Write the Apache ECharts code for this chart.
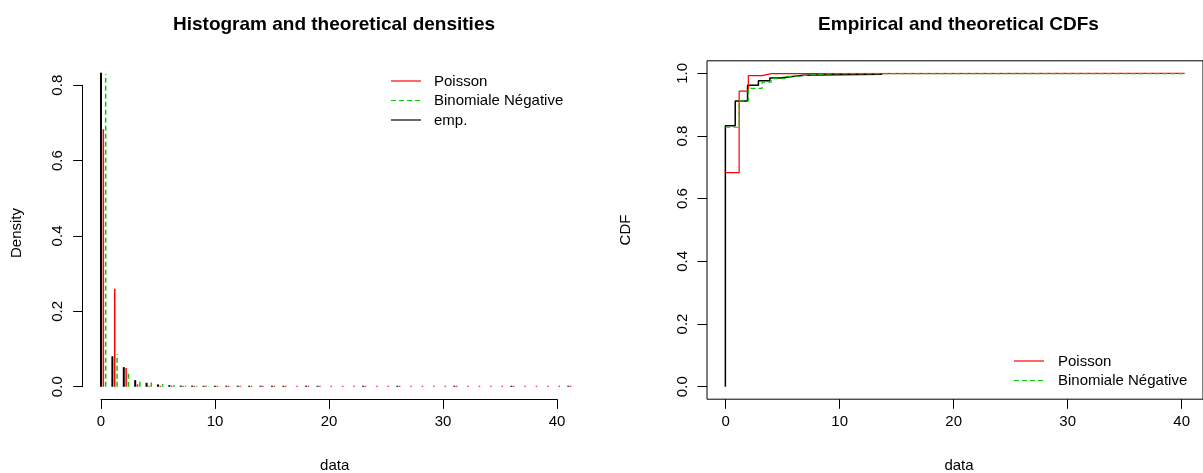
<!DOCTYPE html>
<html><head><meta charset="utf-8">
<script src="https://cdn.jsdelivr.net/npm/echarts@6/dist/echarts.min.js"></script>
<style>html,body{margin:0;padding:0;background:#fff}#c{width:1203px;height:473px}</style>
</head><body><div id="c"></div>
<script>
const FONT = "'Liberation Sans', Arial, sans-serif";

// ---------- data ----------
const seriesNames = ['Poisson', 'Binomiale Négative', 'emp.'];
const xTicks = [0, 10, 20, 30, 40];
const densTicks = [0, 0.2, 0.4, 0.6, 0.8];
const cdfTicks = [0, 0.2, 0.4, 0.6, 0.8, 1.0];

// empirical densities (observed counts)
const empX    = [0, 1, 2, 3, 4, 5, 6, 7, 8, 9, 10, 11, 12, 13, 14, 15, 16, 18, 19, 23, 26, 31, 36, 41];
const empDens = [0.833, 0.081, 0.052, 0.0175, 0.0105, 0.006, 0.0045, 0.003, 0.003, 0.002, 0.002, 0.001, 0.001,
                 0.001, 0.001, 0.001, 0.001, 0.001, 0.001, 0.001, 0.001, 0.001, 0.001, 0.001];
// Poisson densities
const poisX    = [0,1,2,3,4,5,6,7,8,9,10,11,12,13,14,15,16,17,18,19,20,21,22,23,24,25,26,27,28,29,30,31,32,33,34,35,36,37,38,39,40,41];
const poisDens = [0.683, 0.260, 0.050, 0.0063, 0.0006, 0,0,0,0,0,0,0,0,0,0,0,0,0,0,0,0,0,0,0,0,0,0,0,0,0,0,0,0,0,0,0,0,0,0,0,0,0];
// Negative binomial densities
const nbX    = [0, 1, 2, 3, 4, 5, 6, 7, 8, 9, 10, 11, 12];
const nbDens = [0.830, 0.087, 0.037, 0.018, 0.0115, 0.007, 0.0045, 0.003, 0.002, 0.0013, 0.0009, 0.0006, 0.0004];

// CDFs
const empCdfX = [0, 0, 0.88, 1.98, 2.95, 3.97, 4.9, 6.0, 7.0, 8.0, 14];
const empCdfY = [0, 0.833, 0.912, 0.962, 0.976, 0.985, 0.990, 0.994, 0.995, 0.997, 0.997];
const poisCdfX = [0, 1.23, 2.05, 3.28, 4.1, 41];
const poisCdfY = [0.683, 0.943, 0.9925, 0.9988, 0.9999, 1.0];
const nbCdfX = [0, 1.23, 2.05, 3.28, 4.1, 5.33, 6.15, 7.38, 8.2, 9.43, 10.25, 41];
const nbCdfY = [0.828, 0.912, 0.952, 0.972, 0.983, 0.990, 0.994, 0.9965, 0.998, 0.9988, 0.9993, 1.0];

// ---------- styles ----------
const RED = '#FF0000', GREEN = '#00CD00', BLACK = '#000000';
const DASH = [5, 3];
const zip = (a, b) => a.map((v, i) => [v, b[i]]);

function vbars(offset, color, width, dash, minPx) {
  return function (params, api) {
    const x = api.value(0) + offset, y = api.value(1);
    const p0 = api.coord([x, 0]);
    const p1 = api.coord([x, y]);
    let y2 = p1[1];
    if (p0[1] - y2 < minPx) y2 = p0[1] - minPx;
    return { type: 'line', shape: { x1: p0[0], y1: p0[1], x2: p0[0], y2: y2 },
             style: { stroke: color, lineWidth: width, lineDash: dash || null } };
  };
}

const txt = { color: '#000', fontFamily: FONT, fontSize: 15 };
const tickStyle = { show: true, length: 9.6, lineStyle: { color: '#000', width: 1 } };
const hidden = { show: false };

// density panel ranges (R: 4% extension)
const dXmin = -1.64, dXmax = 42.64, dYmin = -0.0333, dYmax = 0.8663;
const cYmin = -0.04, cYmax = 1.04;

const option = {
  animation: false,
  backgroundColor: '#fff',
  title: [
    { text: 'Histogram and theoretical densities', left: 329, top: 10, textAlign: 'center',
      textStyle: { fontFamily: FONT, fontSize: 19, fontWeight: 'bold', color: '#000' } },
    { text: 'Empirical and theoretical CDFs', left: 953.5, top: 10, textAlign: 'center',
      textStyle: { fontFamily: FONT, fontSize: 19, fontWeight: 'bold', color: '#000' } }
  ],
  grid: [
    { left: 82.3, top: 60.2, width: 504.7, height: 339.1 },            // 0 density data
    { left: 101, top: 60.2, width: 456, height: 339.1 },               // 1 density x axis
    { left: 82.7, top: 85.2, width: 504, height: 301.5 },              // 2 density y axis
    { left: 707, top: 60.8, width: 505, height: 338.4, show: true, borderColor: '#000', borderWidth: 1 }, // 3 cdf data
    { left: 725.7, top: 60.8, width: 456, height: 338.4 },             // 4 cdf x axis
    { left: 707, top: 73.3, width: 505, height: 313.4 }                // 5 cdf y axis
  ],
  xAxis: [
    { gridIndex: 0, type: 'value', min: dXmin, max: dXmax, show: false },
    { gridIndex: 1, type: 'value', min: xTicks[0], max: xTicks[xTicks.length - 1], interval: 10,
      axisLine: { show: true, lineStyle: { color: '#000', width: 1 } }, axisTick: tickStyle,
      axisLabel: Object.assign({ margin: 15 }, txt), splitLine: hidden },
    { gridIndex: 2, type: 'value', min: 0, max: 1, show: false },
    { gridIndex: 3, type: 'value', min: dXmin, max: dXmax, show: false },
    { gridIndex: 4, type: 'value', min: xTicks[0], max: xTicks[xTicks.length - 1], interval: 10,
      axisLine: hidden, axisTick: tickStyle,
      axisLabel: Object.assign({ margin: 15 }, txt), splitLine: hidden },
    { gridIndex: 5, type: 'value', min: 0, max: 1, show: false }
  ],
  yAxis: [
    { gridIndex: 0, type: 'value', min: dYmin, max: dYmax, show: false },
    { gridIndex: 1, type: 'value', min: 0, max: 1, show: false },
    { gridIndex: 2, type: 'value', min: densTicks[0], max: densTicks[densTicks.length - 1], interval: 0.2,
      axisLine: { show: true, lineStyle: { color: '#000', width: 1 } }, axisTick: tickStyle,
      axisLabel: Object.assign({ margin: 17, rotate: 90, formatter: v => v.toFixed(1) }, txt), splitLine: hidden },
    { gridIndex: 3, type: 'value', min: cYmin, max: cYmax, show: false },
    { gridIndex: 4, type: 'value', min: 0, max: 1, show: false },
    { gridIndex: 5, type: 'value', min: cdfTicks[0], max: cdfTicks[cdfTicks.length - 1], interval: 0.2,
      axisLine: hidden, axisTick: tickStyle,
      axisLabel: Object.assign({ margin: 17, rotate: 90, formatter: v => v.toFixed(1) }, txt), splitLine: hidden }
  ],
  series: [
    { name: seriesNames[2], type: 'custom', xAxisIndex: 0, yAxisIndex: 0, clip: false,
      data: zip(empX, empDens), renderItem: vbars(0, BLACK, 2, null, 1) },
    { name: seriesNames[0], type: 'custom', xAxisIndex: 0, yAxisIndex: 0, clip: false,
      data: zip(poisX, poisDens), renderItem: vbars(0.205, RED, 1.5, null, 1) },
    { name: seriesNames[1], type: 'custom', xAxisIndex: 0, yAxisIndex: 0, clip: false,
      data: zip(nbX, nbDens), renderItem: vbars(0.41, GREEN, 1.5, DASH, 0) },

    { name: 'emp.', type: 'line', xAxisIndex: 3, yAxisIndex: 3, step: 'end', showSymbol: false,
      data: zip(empCdfX, empCdfY), lineStyle: { color: BLACK, width: 1.5 } },
    { name: seriesNames[0], type: 'line', xAxisIndex: 3, yAxisIndex: 3, step: 'end', showSymbol: false,
      data: zip(poisCdfX, poisCdfY), lineStyle: { color: RED, width: 1.2 } },
    { name: seriesNames[1], type: 'line', xAxisIndex: 3, yAxisIndex: 3, step: 'end', showSymbol: false,
      data: zip(nbCdfX, nbCdfY), lineStyle: { color: GREEN, width: 1.2, type: DASH } }
  ],
  graphic: [
    // axis titles
    { type: 'text', x: 17, y: 233, rotation: Math.PI / 2,
      style: { text: 'Density', fontFamily: FONT, fontSize: 15, fill: '#000', align: 'center', verticalAlign: 'middle' } },
    { type: 'text', x: 626, y: 230, rotation: Math.PI / 2,
      style: { text: 'CDF', fontFamily: FONT, fontSize: 15, fill: '#000', align: 'center', verticalAlign: 'middle' } },
    { type: 'text', x: 334.7, y: 466,
      style: { text: 'data', fontFamily: FONT, fontSize: 15, fill: '#000', align: 'center', verticalAlign: 'middle' } },
    { type: 'text', x: 959, y: 466,
      style: { text: 'data', fontFamily: FONT, fontSize: 15, fill: '#000', align: 'center', verticalAlign: 'middle' } },
    // left legend
    { type: 'line', shape: { x1: 391, y1: 81, x2: 421, y2: 81 }, style: { stroke: RED, lineWidth: 1.2 } },
    { type: 'line', shape: { x1: 391, y1: 100.5, x2: 421, y2: 100.5 }, style: { stroke: GREEN, lineWidth: 1.2, lineDash: DASH } },
    { type: 'line', shape: { x1: 391, y1: 120, x2: 421, y2: 120 }, style: { stroke: BLACK, lineWidth: 1.2 } },
    { type: 'text', x: 434, y: 81.5, style: { text: seriesNames[0], fontFamily: FONT, fontSize: 15, fill: '#000', verticalAlign: 'middle' } },
    { type: 'text', x: 434, y: 101, style: { text: seriesNames[1], fontFamily: FONT, fontSize: 15, fill: '#000', verticalAlign: 'middle' } },
    { type: 'text', x: 434, y: 120.5, style: { text: seriesNames[2], fontFamily: FONT, fontSize: 15, fill: '#000', verticalAlign: 'middle' } },
    // right legend
    { type: 'line', shape: { x1: 1014, y1: 361, x2: 1044, y2: 361 }, style: { stroke: RED, lineWidth: 1.2 } },
    { type: 'line', shape: { x1: 1014, y1: 380.5, x2: 1044, y2: 380.5 }, style: { stroke: GREEN, lineWidth: 1.2, lineDash: DASH } },
    { type: 'text', x: 1058, y: 361.5, style: { text: seriesNames[0], fontFamily: FONT, fontSize: 15, fill: '#000', verticalAlign: 'middle' } },
    { type: 'text', x: 1058, y: 381, style: { text: seriesNames[1], fontFamily: FONT, fontSize: 15, fill: '#000', verticalAlign: 'middle' } }
  ]
};
const chart = echarts.init(document.getElementById('c'), null, { renderer: 'canvas' });
chart.setOption(option);
</script>
</body></html>
